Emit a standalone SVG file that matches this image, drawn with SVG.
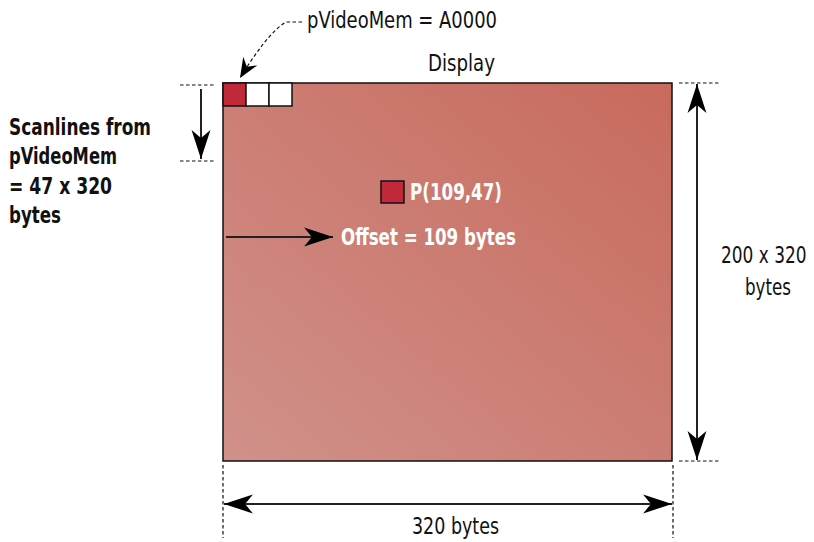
<svg xmlns="http://www.w3.org/2000/svg" width="814" height="542" viewBox="0 0 814 542">
  <style>
    .lbl { font-family: "Liberation Sans Narrow", "DejaVu Sans Condensed", "Liberation Sans", sans-serif; font-size: 23px; fill: #111; }
    .bold { font-weight: bold; }
    .inv { fill: #ffffff; font-weight: bold; }
    .guide { stroke: #111; stroke-width: 1.2; stroke-dasharray: 3.5 2.5; fill: none; }
    .dim { stroke: #222; stroke-width: 2; fill: none; }
  </style>
  <defs>
    <linearGradient id="screenFill" x1="0" y1="1" x2="1" y2="0">
      <stop offset="0" stop-color="#d0918a"/>
      <stop offset="1" stop-color="#c86a5d"/>
    </linearGradient>
    <marker id="head" markerUnits="userSpaceOnUse" markerWidth="30" markerHeight="20" viewBox="-26 -9 27 18" refX="0" refY="0" orient="auto-start-reverse">
      <path d="M0,0 L-26,-8.5 L-19,0 L-26,8.5 Z" fill="#000"/>
    </marker>
    <marker id="headSmall" markerUnits="userSpaceOnUse" markerWidth="22" markerHeight="18" viewBox="-19 -8 20 16" refX="0" refY="0" orient="auto">
      <path d="M0,0 L-18,-7.5 L-12,0 L-18,7.5 Z" fill="#000"/>
    </marker>
  </defs>

  <!-- display surface -->
  <g id="display">
    <rect x="223" y="83" width="449" height="378" fill="url(#screenFill)" stroke="#111" stroke-width="1.5"/>
    <text class="lbl" x="428" y="71" textLength="67" lengthAdjust="spacingAndGlyphs">Display</text>
  </g>

  <!-- first bytes of video memory -->
  <g id="memory-cells">
    <rect x="223" y="83" width="23" height="23" fill="#c0293a" stroke="#111" stroke-width="1.5"/>
    <rect x="246" y="83" width="23" height="23" fill="#ffffff" stroke="#111" stroke-width="1.5"/>
    <rect x="269" y="83" width="23" height="23" fill="#ffffff" stroke="#111" stroke-width="1.5"/>
  </g>

  <g id="pvideomem-label">
    <text class="lbl" x="307" y="28" textLength="190" lengthAdjust="spacingAndGlyphs">pVideoMem = A0000</text>
  </g>

  <!-- pixel P -->
  <g id="pixel">
    <rect x="381" y="181" width="23" height="22" fill="#c0293a" stroke="#111" stroke-width="1.5"/>
    <text class="lbl inv" x="410" y="200" textLength="92" lengthAdjust="spacingAndGlyphs">P(109,47)</text>
  </g>

  <g id="offset-label">
    <text class="lbl inv" x="341" y="245" textLength="175" lengthAdjust="spacingAndGlyphs">Offset = 109 bytes</text>
  </g>

  <g id="scanlines-label">
    <text class="lbl bold" x="9" y="135" textLength="142" lengthAdjust="spacingAndGlyphs">Scanlines from</text>
    <text class="lbl bold" x="9" y="164" textLength="108" lengthAdjust="spacingAndGlyphs">pVideoMem</text>
    <text class="lbl bold" x="9" y="194" textLength="103" lengthAdjust="spacingAndGlyphs">= 47 x 320</text>
    <text class="lbl bold" x="9" y="223" textLength="52" lengthAdjust="spacingAndGlyphs">bytes</text>
  </g>

  <g id="height-label">
    <!-- horizontally squeezed so the label stays clear of the right edge -->
    <text class="lbl" transform="translate(721,263) scale(0.82,1)">200 x 320</text>
    <text class="lbl" x="745" y="295" textLength="46" lengthAdjust="spacingAndGlyphs">bytes</text>
  </g>

  <g id="width-label">
    <text class="lbl" x="412" y="534" textLength="87" lengthAdjust="spacingAndGlyphs">320 bytes</text>
  </g>

  <!-- connectors and dimension lines -->
  <g id="connectors">
    <!-- pointer to first byte -->
    <path class="guide" d="M302,22 L286,22 C272,30 254,55 240,78" marker-end="url(#headSmall)"/>

    <!-- scanline span -->
    <line class="guide" x1="180" y1="85" x2="215" y2="85"/>
    <line class="guide" x1="180" y1="161" x2="215" y2="161"/>
    <line class="dim" x1="201" y1="89" x2="201" y2="159" marker-end="url(#head)"/>

    <!-- offset within scanline -->
    <line class="dim" x1="226" y1="237" x2="333" y2="237" marker-end="url(#head)"/>

    <!-- full height -->
    <line class="guide" x1="679" y1="83" x2="720" y2="83"/>
    <line class="guide" x1="679" y1="461" x2="720" y2="461"/>
    <line class="dim" x1="697" y1="84" x2="697" y2="460" marker-start="url(#head)" marker-end="url(#head)"/>

    <!-- full width -->
    <line class="guide" x1="223" y1="465" x2="223" y2="538"/>
    <line class="guide" x1="673" y1="465" x2="673" y2="538"/>
    <line class="dim" x1="224" y1="504" x2="672" y2="504" marker-start="url(#head)" marker-end="url(#head)"/>
  </g>
</svg>
